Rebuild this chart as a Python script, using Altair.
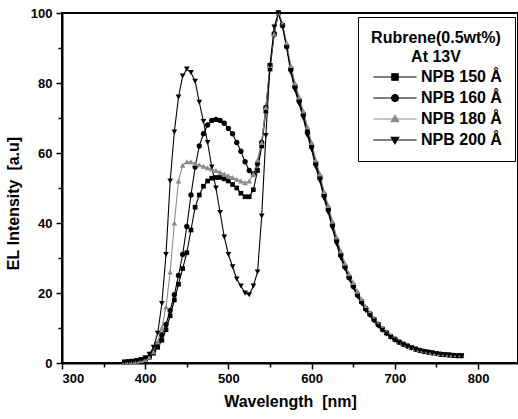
import altair as alt
import pandas as pd

# Wavelength grid (nm)
wavelength = list(range(375, 785, 5))

npb150 = [0.2, 0.3, 0.4, 0.5, 0.7, 1.0, 1.6, 2.8, 4.5, 6.5,
          9.5, 13.5, 18.0, 22.5, 27.0, 31.5, 38.0, 44.5, 48.0, 50.5,
          52.0, 52.8, 53.0, 53.0, 52.6, 52.0, 51.0, 50.0, 48.5, 47.5,
          47.5, 49.5, 55.0, 62.0, 72.0, 84.0, 94.0, 100.0, 96.5, 90.5,
          84.0, 79.0, 75.0, 71.0, 66.0, 62.0, 57.0, 53.0, 48.0, 44.0,
          39.5, 35.0, 31.0, 27.5, 24.5, 22.0, 19.5, 17.5, 15.5, 14.0,
          12.4, 11.0, 9.7, 8.6, 7.6, 6.8, 6.0, 5.4, 4.9, 4.4,
          4.0, 3.6, 3.3, 3.1, 2.9, 2.7, 2.5, 2.4, 2.3, 2.2,
          2.1, 2.1]

npb160 = [0.2, 0.3, 0.4, 0.5, 0.7, 1.0, 1.7, 3.2, 5.5, 8.0,
          11.0, 15.0, 19.5, 25.0, 31.0, 39.0, 48.0, 56.0, 62.0, 65.5,
          68.0, 69.3, 69.6, 69.3, 68.5, 67.0, 65.5, 63.0, 60.5, 57.5,
          55.0, 54.0, 57.0, 63.0, 73.0, 85.0, 94.0, 100.0, 96.5, 90.5,
          84.0, 79.0, 75.0, 71.0, 66.0, 62.0, 57.0, 53.0, 48.0, 44.0,
          39.5, 35.0, 31.0, 27.5, 24.5, 22.0, 19.5, 17.5, 15.5, 14.0,
          12.4, 11.0, 9.7, 8.6, 7.6, 6.8, 6.0, 5.4, 4.9, 4.4,
          4.0, 3.6, 3.3, 3.1, 2.9, 2.7, 2.5, 2.4, 2.3, 2.2,
          2.1, 2.1]

npb180 = [0.2, 0.3, 0.4, 0.5, 0.7, 1.0, 1.6, 3.2, 6.0, 10.0,
          16.0, 26.0, 40.0, 52.0, 56.5, 57.5, 57.5, 57.0, 56.6, 56.2,
          55.8, 55.4, 55.0, 54.5, 54.0, 53.5, 53.0, 52.5, 52.0, 51.5,
          52.0, 54.0, 58.0, 63.0, 73.0, 85.0, 94.0, 100.0, 97.0, 91.5,
          85.0, 80.0, 76.0, 72.0, 67.5, 63.0, 58.0, 54.0, 49.0, 45.0,
          40.5, 36.0, 32.0, 28.5, 25.5, 23.0, 20.5, 18.2, 16.2, 14.5,
          12.9, 11.4, 10.1, 9.0, 8.0, 7.1, 6.3, 5.7, 5.1, 4.6,
          4.2, 3.8, 3.5, 3.2, 3.0, 2.8, 2.7, 2.6, 2.5, 2.4,
          2.4, 2.4]

npb200 = [0.3, 0.4, 0.5, 0.7, 1.0, 1.5, 2.5, 4.5, 8.5, 17.0,
          31.0, 52.0, 66.0, 76.0, 82.0, 84.0, 83.0, 80.5, 74.5, 69.0,
          63.0, 56.0, 50.0, 43.0, 36.0, 31.0, 27.5, 24.0, 22.0, 20.0,
          19.5, 22.0, 26.0, 42.0, 65.0, 85.0, 96.0, 100.0, 96.0, 90.0,
          83.0, 78.0, 74.0, 70.0, 65.0, 61.0, 56.0, 52.0, 47.0, 43.0,
          38.5, 34.0, 30.0, 27.0, 24.0, 21.5, 19.0, 17.0, 15.0, 13.5,
          12.0, 10.5, 9.3, 8.3, 7.3, 6.5, 5.8, 5.2, 4.7, 4.2,
          3.8, 3.5, 3.2, 3.0, 2.8, 2.6, 2.4, 2.3, 2.2, 2.1,
          2.0, 2.0]

series_names = ["NPB 150 Å", "NPB 160 Å", "NPB 180 Å", "NPB 200 Å"]
series_values = [npb150, npb160, npb180, npb200]
series_colors = ["#000000", "#000000", "#8a8a8a", "#000000"]
series_shapes = ["square", "circle", "triangle-up", "triangle-down"]
series_sizes = [22, 28, 32, 32]

# legend symbols: a short line with the marker in the middle
legend_paths = [
    "M-5.4,0L5.4,0M-0.8,-0.8L0.8,-0.8L0.8,0.8L-0.8,0.8Z",
    "M-5.4,0L5.4,0M0.9,0L0.64,0.64L0,0.9L-0.64,0.64L-0.9,0L-0.64,-0.64L0,-0.9L0.64,-0.64Z",
    "M-5.4,0L5.4,0M0,-0.95L0.95,0.7L-0.95,0.7Z",
    "M-5.4,0L5.4,0M0,0.95L0.95,-0.7L-0.95,-0.7Z",
]
shape_expr = (
    "datum.value === '" + series_names[0] + "' ? '" + legend_paths[0] + "' : "
    "datum.value === '" + series_names[1] + "' ? '" + legend_paths[1] + "' : "
    "datum.value === '" + series_names[2] + "' ? '" + legend_paths[2] + "' : '" + legend_paths[3] + "'"
)
stroke_expr = "datum.value === '" + series_names[2] + "' ? '#8a8a8a' : '#000000'"

rows = []
for name, vals in zip(series_names, series_values):
    for w, v in zip(wavelength, vals):
        rows.append({"wl": w, "I": v, "series": name})
df = pd.DataFrame(rows)

FONT = "Liberation Sans"
NB = "\u00a0"

x_enc = alt.X(
    "wl:Q",
    scale=alt.Scale(domain=[300, 848], nice=False, zero=False),
    axis=alt.Axis(
        values=list(range(300, 801, 50)),
        labelExpr="datum.value % 100 === 0 ? datum.label : ''",
        tickSize={"condition": {"test": "datum.value % 100 === 0", "value": 6}, "value": 4},
        title="Wavelength" + NB + NB + "[nm]",
        titlePadding=8,
        labelPadding=3,
        grid=False,
    ),
)
y_enc = alt.Y(
    "I:Q",
    scale=alt.Scale(domain=[0, 100], nice=False),
    axis=alt.Axis(
        values=list(range(0, 101, 10)),
        labelExpr="datum.value % 20 === 0 ? datum.label : ''",
        tickSize={"condition": {"test": "datum.value % 20 === 0", "value": 6}, "value": 4},
        title="EL" + NB + "Intensity" + NB + NB + "[a.u]",
        titlePadding=9,
        titleY=190,
        labelPadding=4,
        grid=False,
    ),
)

main_legend = alt.Legend(
    title=["Rubrene(0.5wt%)", "At 13V"],
    orient="none",
    legendX=296,
    legendY=4,
    titleAnchor="middle",
    titleAlign="center",
    titleFontSize=16,
    titleFont=FONT,
    titleFontWeight="bold",
    titleLineHeight=19,
    titlePadding=4,
    labelFontSize=16,
    labelFont=FONT,
    labelFontWeight="bold",
    labelOffset=18,
    symbolOffset=16,
    symbolSize=64,
    rowPadding=5,
    padding=13,
    fillColor="white",
    strokeColor="black",
    symbolType=alt.expr(shape_expr),
    symbolStrokeColor=alt.expr(stroke_expr),
    symbolStrokeWidth=1.1,
    symbolOpacity=1,
)

lines = alt.Chart(df).mark_line(strokeWidth=1.1).encode(
    x=x_enc,
    y=y_enc,
    color=alt.Color("series:N", scale=alt.Scale(domain=series_names, range=series_colors),
                    legend=None),
)

point_layers = []
for name, col, shp, sz in zip(series_names, series_colors, series_shapes, series_sizes):
    point_layers.append(
        alt.Chart(df)
        .transform_filter(alt.datum.series == name)
        .mark_point(filled=True, shape=shp, size=sz, color=col, opacity=1)
        .encode(x=x_enc, y=y_enc)
    )

# legend-only layer (invisible marks)
leg = (
    alt.Chart(df)
    .mark_point(filled=True, opacity=0)
    .encode(
        x=x_enc,
        y=y_enc,
        color=alt.Color("series:N", scale=alt.Scale(domain=series_names, range=series_colors),
                        legend=main_legend),
    )
)

chart = (
    alt.layer(lines, *point_layers, leg)
    .resolve_scale(color="independent")
    .properties(
        width=456,
        height=350,
        autosize=alt.AutoSizeParams(type="none"),
        padding={"left": 62, "top": 13, "right": 0, "bottom": 56},
        background="white",
    )
    .configure_view(stroke="black", strokeWidth=2)
    .configure_axis(
        domainColor="black",
        domainWidth=2,
        tickColor="black",
        tickWidth=1.5,
        labelFont=FONT,
        labelFontSize=13,
        labelFontWeight="bold",
        labelColor="black",
        titleFont=FONT,
        titleFontSize=16,
        titleFontWeight="bold",
        titleColor="black",
    )
)

chart.save("out.html", embed_options={"renderer": "svg", "actions": False})
